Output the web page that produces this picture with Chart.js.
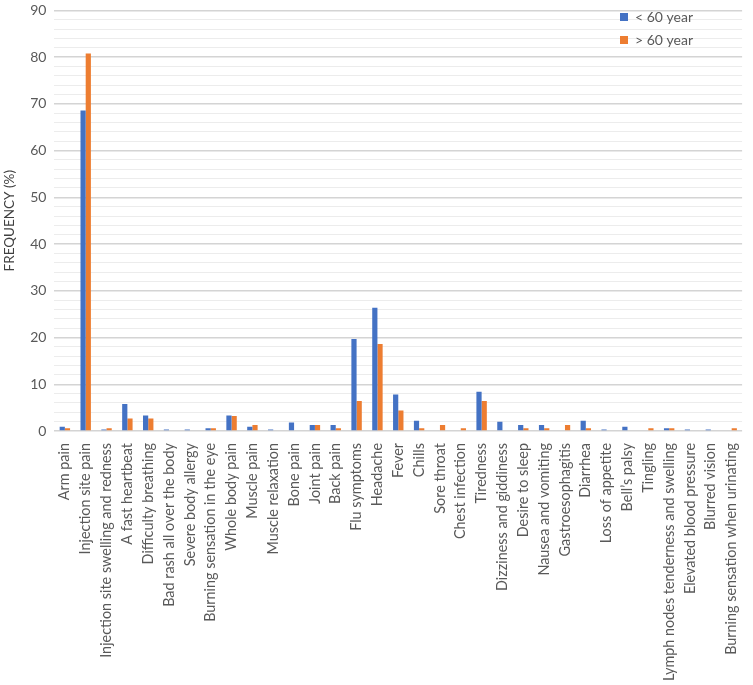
<!DOCTYPE html>
<html>
<head>
<meta charset="utf-8">
<script src="https://cdn.jsdelivr.net/npm/chart.js@4.4.1/dist/chart.umd.min.js"></script>
<style>
  html, body { margin: 0; padding: 0; background: #fff; overflow: hidden; }
  #wrap { width: 753px; height: 691px; margin-top: -6px; }
</style>
</head>
<body>
<div id="wrap"><canvas id="chart"></canvas></div>
<script>
const categories = [
  'Arm pain', 'Injection site pain', 'Injection site swelling and redness', 'A fast heartbeat',
  'Difficulty breathing', 'Bad rash all over the body', 'Severe body allergy',
  'Burning sensation in the eye', 'Whole body pain', 'Muscle pain', 'Muscle relaxation',
  'Bone pain', 'Joint pain', 'Back pain', 'Flu symptoms', 'Headache', 'Fever', 'Chills',
  'Sore throat', 'Chest infection', 'Tiredness', 'Dizziness and giddiness', 'Desire to sleep',
  'Nausea and vomiting', 'Gastroesophagitis', 'Diarrhea', 'Loss of appetite', 'Bell\u2019s palsy',
  'Tingling', 'Lymph nodes tenderness and swelling', 'Elevated blood pressure', 'Blurred vision',
  'Burning sensation when urinating'
];
const under60 = [0.9, 68.6, 0.3, 5.8, 3.3, 0.3, 0.3, 0.6, 3.3, 0.9, 0.3, 1.8, 1.3, 1.3, 19.7, 26.4,
  7.8, 2.2, 0, 0, 8.4, 2.0, 1.3, 1.3, 0, 2.2, 0.3, 0.9, 0, 0.6, 0.3, 0.3, 0];
const over60 = [0.6, 80.8, 0.6, 2.7, 2.7, 0, 0, 0.6, 3.2, 1.3, 0, 0, 1.3, 0.6, 6.4, 18.6,
  4.4, 0.6, 1.3, 0.6, 6.4, 0, 0.6, 0.6, 1.3, 0.6, 0, 0, 0.6, 0.6, 0, 0, 0.6];
const yTicks = [0, 10, 20, 30, 40, 50, 60, 70, 80, 90];

const FONT = 'Lato, "Liberation Sans", sans-serif';
const GREY = '#595959';

// put the legend in the top right corner, inside the plot
const legendCorner = {
  id: 'legendCorner',
  afterLayout(chart) {
    const lg = chart.legend;
    lg.left = 611;
    lg.right = lg.left + lg.width;
    lg.top = 7;
    lg.bottom = lg.top + lg.height;
  }
};

new Chart(document.getElementById('chart'), {
  type: 'bar',
  data: {
    labels: categories,
    datasets: [
      { label: '< 60 year', data: under60, backgroundColor: '#4472C4' },
      { label: '> 60 year', data: over60, backgroundColor: '#ED7D31' }
    ]
  },
  options: {
    responsive: true,
    maintainAspectRatio: false,
    animation: false,
    layout: { padding: { top: 0, right: 3, left: 2, bottom: 0 } },
    datasets: { bar: { categoryPercentage: 0.5, barPercentage: 1.0 } },
    plugins: {
      legend: {
        position: 'chartArea',
        align: 'start',
        labels: { boxWidth: 8, boxHeight: 8, padding: 9, color: GREY,
          font: { family: FONT, size: 14 } }
      },
      tooltip: { enabled: false }
    },
    scales: {
      x: {
        grid: { display: false },
        border: { display: false },
        ticks: {
          autoSkip: false, maxRotation: 90, minRotation: 90, color: GREY, padding: 4,
          font: { family: FONT, size: 14.4 }
        }
      },
      y: {
        min: yTicks[0],
        max: yTicks[yTicks.length - 1],
        border: { display: false },
        grid: {
          drawTicks: false,
          color: (ctx) => ctx.tick && ctx.tick.value % 10 === 0 ? '#d4d4d4' : '#ececec',
          lineWidth: (ctx) => ctx.tick && ctx.tick.value % 10 === 0 ? 1.5 : 1
        },
        ticks: {
          stepSize: 2, autoSkip: false, padding: 8, color: GREY,
          font: { family: FONT, size: 14 },
          callback: (v) => yTicks.includes(v) ? v : ''
        },
        title: { display: true, text: 'FREQUENCY (%)', color: '#404040',
          font: { family: FONT, size: 13.5 }, padding: { top: 0, bottom: 4 } }
      }
    }
  },
  plugins: [legendCorner]
});
</script>
</body>
</html>
